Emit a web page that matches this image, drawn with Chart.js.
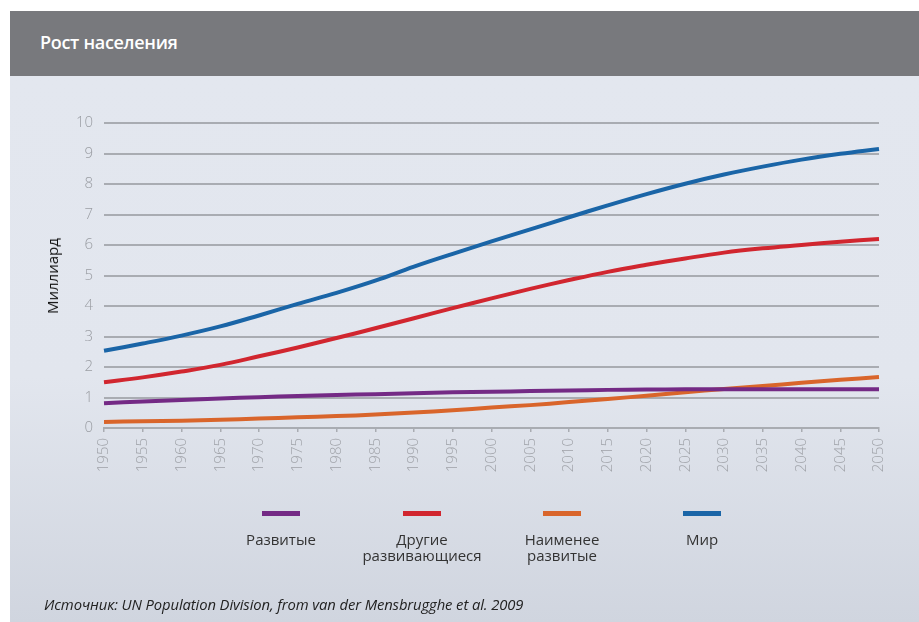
<!DOCTYPE html>
<html>
<head>
<meta charset="utf-8">
<script src="https://cdn.jsdelivr.net/npm/chart.js@4/dist/chart.umd.min.js"></script>
<style>
  html, body { margin: 0; padding: 0; background: #fff; }
  body { width: 919px; height: 622px; position: relative; overflow: hidden; font-family: "Open Sans", "Noto Sans", sans-serif; }
  .header { position: absolute; left: 10px; top: 11px; width: 909px; height: 65px; background: #78797d; }
  .header h1 { margin: 0; position: absolute; left: 30px; top: 19px; font-size: 18px; font-weight: 600; color: #fff; letter-spacing: -0.3px; }
  .panel { position: absolute; left: 10px; top: 76px; width: 909px; height: 546px; background: linear-gradient(#e3e7ef 0%, #e2e6ee 55%, #d0d5df 100%); }
  #chart { position: absolute; left: 0; top: 0; }
  .ytitle { position: absolute; left: 52px; top: 276px; transform: translate(-50%, -50%) rotate(-90deg); font-size: 15px; font-weight: 400; color: #111; white-space: nowrap; }
  .legend { position: absolute; top: 0; left: 0; }
  .item { position: absolute; width: 180px; margin-left: -90px; text-align: center; top: 511px; font-size: 15px; line-height: 16px; color: #333; }
  .item .bar { width: 38px; height: 5px; margin: 0 auto 15px; }
  .source { position: absolute; left: 44px; top: 594px; font-size: 14.8px; font-style: italic; color: #222; letter-spacing: -0.1px; }
</style>
</head>
<body>
<div class="header"><h1>Рост населения</h1></div>
<div class="panel"></div>
<canvas id="chart" width="919" height="622"></canvas>
<div class="ytitle">Миллиард</div>
<div class="legend" id="legend"></div>
<div class="source">Источник: UN Population Division, from van der Mensbrugghe et al. 2009</div>
<script>
// years on the x axis
const years = ["1950", "1955", "1960", "1965", "1970", "1975", "1980", "1985", "1990", "1995", "2000",
  "2005", "2010", "2015", "2020", "2025", "2030", "2035", "2040", "2045", "2050"]

// billions
const developed = [0.81, 0.87, 0.92, 0.97, 1.01, 1.05, 1.08, 1.11, 1.14, 1.17, 1.19,
  1.21, 1.23, 1.25, 1.26, 1.27, 1.27, 1.27, 1.27, 1.27, 1.27]
const otherDeveloping = [1.50, 1.66, 1.85, 2.07, 2.35, 2.64, 2.95, 3.27, 3.60, 3.93, 4.25,
  4.56, 4.85, 5.12, 5.35, 5.56, 5.75, 5.89, 6.00, 6.11, 6.20]
const leastDeveloped = [0.20, 0.22, 0.24, 0.27, 0.31, 0.35, 0.39, 0.44, 0.51, 0.58, 0.67,
  0.75, 0.85, 0.95, 1.06, 1.17, 1.28, 1.38, 1.48, 1.58, 1.67]
const world = [2.53, 2.77, 3.03, 3.33, 3.69, 4.07, 4.43, 4.83, 5.29, 5.71, 6.12,
  6.51, 6.91, 7.30, 7.67, 8.01, 8.31, 8.57, 8.80, 8.99, 9.15]

const yTicks = [0, 1, 2, 3, 4, 5, 6, 7, 8, 9, 10]

const seriesNames = ["Развитые", "Другие<br>развивающиеся", "Наименее<br>развитые", "Мир"]
const seriesColors = ["#742a85", "#d1262f", "#d9652b", "#1a65a7"]
const legendX = [281, 422, 562, 702]

const ctx = document.getElementById("chart")
const allSeries = [developed, otherDeveloping, leastDeveloped, world]

new Chart(ctx, {
  type: "line",
  data: {
    labels: years,
    datasets: allSeries.map((d, i) => ({
      label: seriesNames[i].replace("<br>", " "),
      data: d,
      borderColor: seriesColors[i],
      borderWidth: 4,
      pointRadius: 0,
      tension: 0.4,
      fill: false,
    })),
  },
  options: {
    responsive: false,
    animation: false,
    layout: { padding: { left: 0, top: 123, right: 40, bottom: 144 } },
    plugins: { legend: { display: false }, tooltip: { enabled: false } },
    scales: {
      x: {
        offset: false,
        grid: { display: true, drawOnChartArea: false, drawTicks: true, tickLength: 4, color: "#a9acb2", lineWidth: 1.5 },
        border: { display: true, color: "#a9acb2", width: 2 },
        ticks: {
          color: "#9fa2a8",
          font: { family: "Open Sans", size: 15, weight: 300 },
          minRotation: 90,
          maxRotation: 90,
          autoSkip: false,
          padding: 6,
        },
        afterFit: (scale) => { scale.height = 50 },
      },
      y: {
        min: 0,
        max: 10,
        afterBuildTicks: (scale) => { scale.ticks = yTicks.map((v) => ({ value: v })) },
        grid: { drawTicks: false, color: (c) => (c.tick.value === 0 ? "rgba(0,0,0,0)" : "#a9acb2"), lineWidth: 2 },
        border: { display: false },
        ticks: {
          color: "#9a9da3",
          font: { family: "Open Sans", size: 15, weight: 300 },
          padding: 11,
        },
        afterFit: (scale) => { scale.width = 104 },
      },
    },
  },
})

// legend built as html so labels can wrap on two lines
const legend = document.getElementById("legend")
seriesNames.forEach((name, i) => {
  const el = document.createElement("div")
  el.className = "item"
  el.style.left = legendX[i] + "px"
  el.innerHTML = `<div class="bar" style="background:${seriesColors[i]}"></div>${name}`
  legend.appendChild(el)
})
</script>
</body>
</html>
